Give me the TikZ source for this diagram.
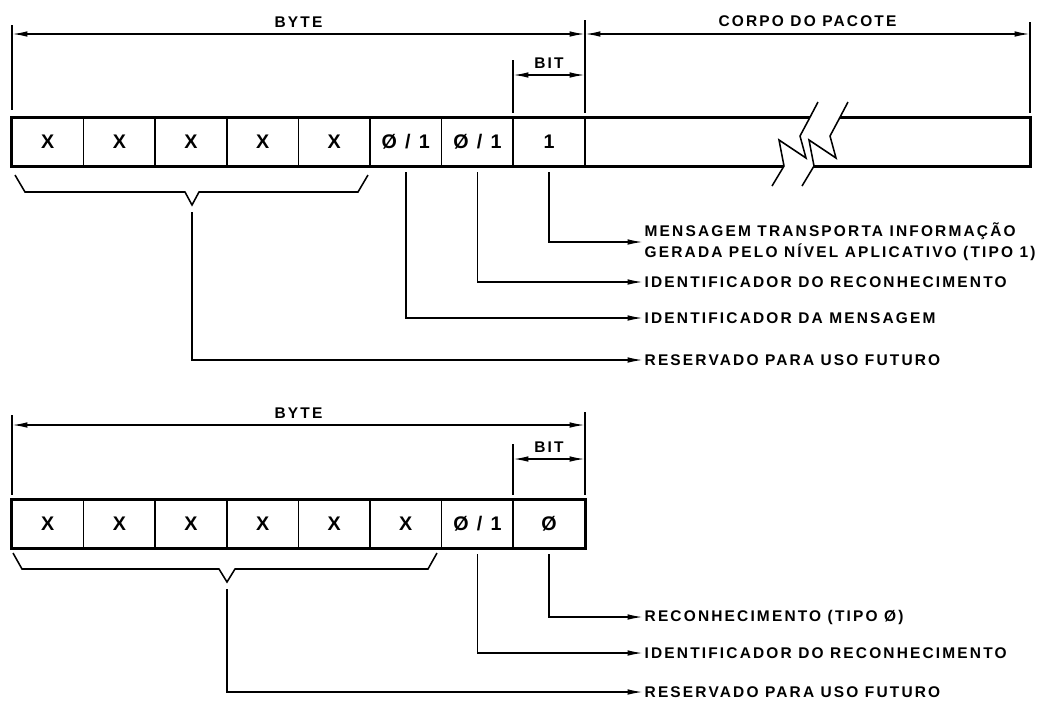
\documentclass[tikz,border=0pt]{standalone}
\usepackage{fontspec}
\setmainfont{Liberation Sans}[LetterSpace=14]
\usetikzlibrary{arrows.meta}

\begin{document}
\begin{tikzpicture}[x=0.025cm, y=-0.025cm,
			% Define the style for the nodes
			every node/.style={font=\bfseries\fontsize{11}{13}\selectfont},
			rule/.style={line width=1.1pt},
			cell/.style={draw, rule, minimum width=1.79cm, minimum height=1.2cm, inner sep=0pt, font=\bfseries\fontsize{14}{16}\selectfont},
			dim/.style={rule, {Latex[length=11pt,width=4pt]}-{Latex[length=11pt,width=4pt]}},
			leader/.style={rule, -{Latex[length=11pt,width=4pt]}},
			lbl/.style={anchor=west, inner sep=1pt, align=left}
			]
			\useasboundingbox (0,0) rectangle (1038,706);
			
			% pacote de mensagem (tipo 1)
			\node[cell] (a1) at (47.8,142) {X};
			\node[cell] (a2) at (119.4,142) {X};
			\node[cell] (a3) at (191.0,142) {X};
			\node[cell] (a4) at (262.6,142) {X};
			\node[cell] (a5) at (334.2,142) {X};
			\node[cell] (a6) at (405.8,142) {Ø / 1};
			\node[cell] (a7) at (477.4,142) {Ø / 1};
			\node[cell] (a8) at (549.0,142) {1};
			\node[cell, minimum width=11.125cm] (corpo) at (807.5,142) {};
			\draw[line width=2.2pt] (a1.north west) rectangle (corpo.south east);
			
			% quebra do corpo
			\fill[white] (772,186) -- (784,166) -- (779,140) -- (806,158) -- (800,136) -- (808,121) -- (818,102)
				-- (848,102) -- (838,121) -- (830,136) -- (836,158) -- (809,140) -- (814,166) -- (802,186) -- cycle;
			\draw[rule] (772,186) -- (784,166) -- (779,140) -- (806,158) -- (800,136) -- (808,121) -- (818,102);
			\draw[rule] (802,186) -- (814,166) -- (809,140) -- (836,158) -- (830,136) -- (838,121) -- (848,102);
			
			\draw[rule] (12,25) -- (12,110);
			\draw[rule] (585,20) -- (585,113);
			\draw[rule] (513,60) -- (513,113);
			\draw[rule] (1030,22) -- (1030,113);
			\coordinate (p0) at (12,34);
			\coordinate (p1) at (585,34);
			\coordinate (p2) at (1030,34);
			\coordinate (q0) at (513,75);
			\coordinate (q1) at (585,75);
			\draw[dim] (p0) -- node[above=1pt] (byte1) {BYTE} (p1);
			\draw[dim] (p1) -- node[above=1pt] (corpo1) {CORPO DO PACOTE} (p2);
			\draw[dim] (q0) -- node[above=1pt] (bit1) {BIT} (q1);
			
			\coordinate (tipA) at (192,205);
			\draw[rule] (15,175) -- (25,192) -- (185,192) -- (tipA) -- (199,192) -- (358,192) -- (368,175);
			
			\node[lbl] (msg1) at (643,242) {MENSAGEM TRANSPORTA INFORMAÇÃO\\[2pt]GERADA PELO NÍVEL APLICATIVO (TIPO 1)};
			\node[lbl] (idrec1) at (643,282) {IDENTIFICADOR DO RECONHECIMENTO};
			\node[lbl] (idmsg1) at (643,318) {IDENTIFICADOR DA MENSAGEM};
			\node[lbl] (res1) at (643,360) {RESERVADO PARA USO FUTURO};
			
			\draw[leader] ([yshift=-4pt]a8.south) |- (msg1.west);
			\draw[leader] ([yshift=-4pt]a7.south) |- (idrec1.west);
			\draw[leader] ([yshift=-4pt]a6.south) |- (idmsg1.west);
			\draw[leader] ([yshift=-5pt]tipA) |- (res1.west);
			
			% pacote de reconhecimento (tipo 0)
			\node[cell] (b1) at (47.8,524) {X};
			\node[cell] (b2) at (119.4,524) {X};
			\node[cell] (b3) at (191.0,524) {X};
			\node[cell] (b4) at (262.6,524) {X};
			\node[cell] (b5) at (334.2,524) {X};
			\node[cell] (b6) at (405.8,524) {X};
			\node[cell] (b7) at (477.4,524) {Ø / 1};
			\node[cell] (b8) at (549.0,524) {Ø};
			\draw[line width=2.2pt] (b1.north west) rectangle (b8.south east);
			
			\draw[rule] (12,415) -- (12,495);
			\draw[rule] (585,412) -- (585,495);
			\draw[rule] (513,444) -- (513,495);
			\coordinate (r0) at (12,425);
			\coordinate (r1) at (585,425);
			\coordinate (s0) at (513,459);
			\coordinate (s1) at (585,459);
			\draw[dim] (r0) -- node[above=1pt] (byte2) {BYTE} (r1);
			\draw[dim] (s0) -- node[above=1pt] (bit2) {BIT} (s1);
			
			\coordinate (tipB) at (227,582);
			\draw[rule] (13,553) -- (22,569) -- (219,569) -- (tipB) -- (235,569) -- (428,569) -- (437,553);
			
			\node[lbl] (rec2) at (643,617) {RECONHECIMENTO (TIPO Ø)};
			\node[lbl] (idrec2) at (643,653) {IDENTIFICADOR DO RECONHECIMENTO};
			\node[lbl] (res2) at (643,692) {RESERVADO PARA USO FUTURO};
			
			\draw[leader] ([yshift=-4pt]b8.south) |- (rec2.west);
			\draw[leader] ([yshift=-4pt]b7.south) |- (idrec2.west);
			\draw[leader] ([yshift=-5pt]tipB) |- (res2.west);
			
		\end{tikzpicture}
\end{document}
